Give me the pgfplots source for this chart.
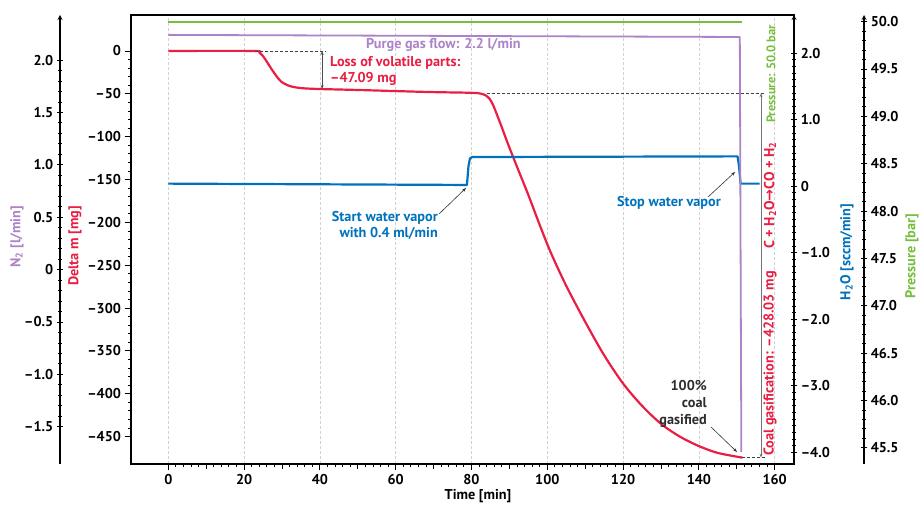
\documentclass[border=0pt]{standalone}
\usepackage{pgfplots}
\pgfplotsset{compat=1.18}
\usepackage{fontspec}
\setmainfont{PT Sans}
\newfontfamily\dejavu{DejaVu Sans}
\usetikzlibrary{arrows.meta}

\definecolor{dmred}{RGB}{233,30,66}
\definecolor{nlila}{RGB}{172,131,200}
\definecolor{pgreen}{RGB}{118,190,62}
\definecolor{hblue}{RGB}{0,114,189}
\definecolor{txtgray}{RGB}{45,45,45}

\pgfplotsset{
  base/.style={
    scale only axis, width=663bp, height=449bp,
    at={(131bp,43bp)}, anchor=south west,
    xmin=-9.84, xmax=165.1,
    tick align=outside,
    major tick length=6.5bp, minor tick length=3.5bp,
    axis line style={-, line width=1.2bp},
    every tick/.style={black, line width=0.9bp},
    tick label style={font=\fontsize{14.3}{16}\selectfont\bfseries},
  },
}

\begin{document}
\begin{tikzpicture}[x=1bp, y=1bp, font=\fontsize{14.3}{16}\selectfont\bfseries]
\useasboundingbox (0,0) rectangle (922,507);

% main axis: Delta m
\begin{axis}[base,
  ymin=-481.9, ymax=42,
  xtick={0,20,...,160}, xticklabels={0,20,40,60,80,100,120,140,160},
  minor x tick num=9,
  extra x ticks={10,30,...,150}, extra x tick labels={},
  extra x tick style={major tick length=5bp, grid=none},
  xmajorgrids, grid style={densely dashed, black!18, line width=0.6bp},
  ytick={-450,-400,...,0},
  yticklabels={–450,–400,–350,–300,–250,–200,–150,–100,–50,0},
  minor y tick num=4,
  xtick pos=left, ytick pos=left,
]
\addplot[dmred, line width=2.2bp, line join=round, smooth, tension=0.5] coordinates {
 (0,0) (22.5,0) (24,-2) (25,-6) (26,-12.5) (27,-19.5) (28,-26) (29,-32)
 (30,-36.5) (31.5,-40) (33,-42) (35.5,-43.5) (40,-44.4) (50,-45.5)
 (60,-46.8) (70,-48) (80,-48.8) (82.5,-49.8) (83.8,-52) (84.8,-56)
 (85.7,-63) (86.6,-73) (88,-89) (89.5,-107) (92,-135) (95,-168)
 (98,-203) (101,-236) (105,-274) (110,-316) (115,-355) (120,-388)
 (125,-414) (130,-435) (135,-450) (140,-461) (145,-469) (151.5,-474.5)
};
\draw[densely dashed, black!75, line width=0.7bp] (axis cs:23,0) -- (axis cs:41.5,0);
\draw[{Stealth[length=4bp,width=3bp]}-{Stealth[length=4bp,width=3bp]}, black!70, line width=0.8bp]
  (axis cs:40.6,0) -- (axis cs:40.6,-44.3);
\draw[densely dashed, black!75, line width=0.7bp] (axis cs:84,-49.3) -- (axis cs:157.5,-49.3);
\draw[densely dashed, black!75, line width=0.7bp] (axis cs:151.5,-474.5) -- (axis cs:157.5,-474.5);
\draw[{Stealth[length=4bp,width=3bp]}-{Stealth[length=4bp,width=3bp]}, black!55, line width=0.8bp]
  (axis cs:156.4,-49.3) -- (axis cs:156.4,-474.5);
\end{axis}

% H2O on the right edge of the box
\begin{axis}[base,
  ymin=-4.176, ymax=2.576,
  hide x axis, axis y line=right,
  ytick={-4,-3,...,2}, yticklabels={–4.0,–3.0,–2.0,–1.0,0,1.0,2.0},
  minor y tick num=9,
]
\addplot[hblue, line width=2.2bp, line join=round] coordinates {
 (0,0.04) (78.8,0.02) (79.2,0.3) (79.6,0.42) (80.2,0.44)
 (150.2,0.45) (150.6,0.3) (151,0.04) (156,0.04)
};
\end{axis}

% N2 data
\begin{axis}[base, ymin=-1.855, ymax=2.43, hide axis]
\addplot[nlila, line width=1.8bp, line join=round] coordinates {
 (0,2.24) (150.8,2.22) (151.2,-1.74)
};
\end{axis}

% pressure data
\begin{axis}[base, ymin=45.33, ymax=50.07, hide axis]
\addplot[pgreen, line width=2.2bp] coordinates {(0,50.0) (151.3,50.0)};
\end{axis}

% N2 scale
\begin{axis}[base, at={(60bp,43bp)}, width=20bp, xmin=0, xmax=1,
  ymin=-1.855, ymax=2.43, hide x axis, axis y line=left,
  ytick={-1.5,-1,...,2}, yticklabels={–1.5,–1.0,–0.5,0,0.5,1.0,1.5,2.0},
  minor y tick num=4,
]
\addplot[draw=none] coordinates {(0,0)};
\end{axis}

% pressure scale
\begin{axis}[base, at={(864bp,43bp)}, anchor=south east, width=20bp, xmin=0, xmax=1,
  ymin=45.33, ymax=50.07, hide x axis, axis y line=right,
  ytick={45.5,46,...,50},
  yticklabels={45.5,46.0,46.5,47.0,47.5,48.0,48.5,49.0,49.5,50.0},
  minor y tick num=4,
]
\addplot[draw=none] coordinates {(0,48)};
\end{axis}

% axis titles
\node[rotate=90, nlila] at (17,270) {N\textsubscript{2} [l/min]};
\node[rotate=90, dmred] at (75,261) {Delta m [mg]};
\node[rotate=90, hblue] at (847,255) {H\textsubscript{2}O [sccm/min]};
\node[rotate=90, pgreen] at (912,251) {Pressure [bar]};
\node at (478,11) {Time [min]};

% annotations
\node[dmred, anchor=west, inner sep=0pt] at (330,444) {Loss of volatile parts:};
\node[dmred, anchor=west, inner sep=0pt] at (330,428) {–47.09 mg};
\node[nlila, anchor=west, inner sep=0pt] at (366,462) {Purge gas flow: 2.2 l/min};

\node[hblue, align=right, anchor=east, inner sep=0pt] at (438,281.5) {Start water vapor\\with 0.4 ml/min};
\draw[-{Stealth[length=4bp,width=3bp]}, black!80, line width=0.6bp] (439,293) -- (466,319);
\node[hblue, anchor=east, inner sep=0pt] at (721,304) {Stop water vapor};
\draw[-{Stealth[length=4bp,width=3bp]}, black!80, line width=0.6bp] (708,310) -- (735,335);

\node[txtgray, align=right, anchor=east, inner sep=0pt, font=\fontsize{14.3}{17}\selectfont\bfseries] at (707,103) {100\%\\coal\\gasified};
\draw[-{Stealth[length=4bp,width=3bp]}, black!80, line width=0.6bp] (711,80) -- (737,55);

\node[rotate=90, anchor=west, inner sep=0pt, dmred] at (770,51) {Coal gasification: –428.03 mg};
\node[rotate=90, anchor=west, inner sep=0pt, dmred] at (770,258) {C + H\textsubscript{2}O{\dejavu\bfseries →}CO + H\textsubscript{2}};
\node[rotate=90, anchor=west, inner sep=0pt, pgreen, font=\fontsize{12.5}{14}\selectfont\bfseries] at (771,384) {Pressure: 50.0 bar};
\end{tikzpicture}
\end{document}
